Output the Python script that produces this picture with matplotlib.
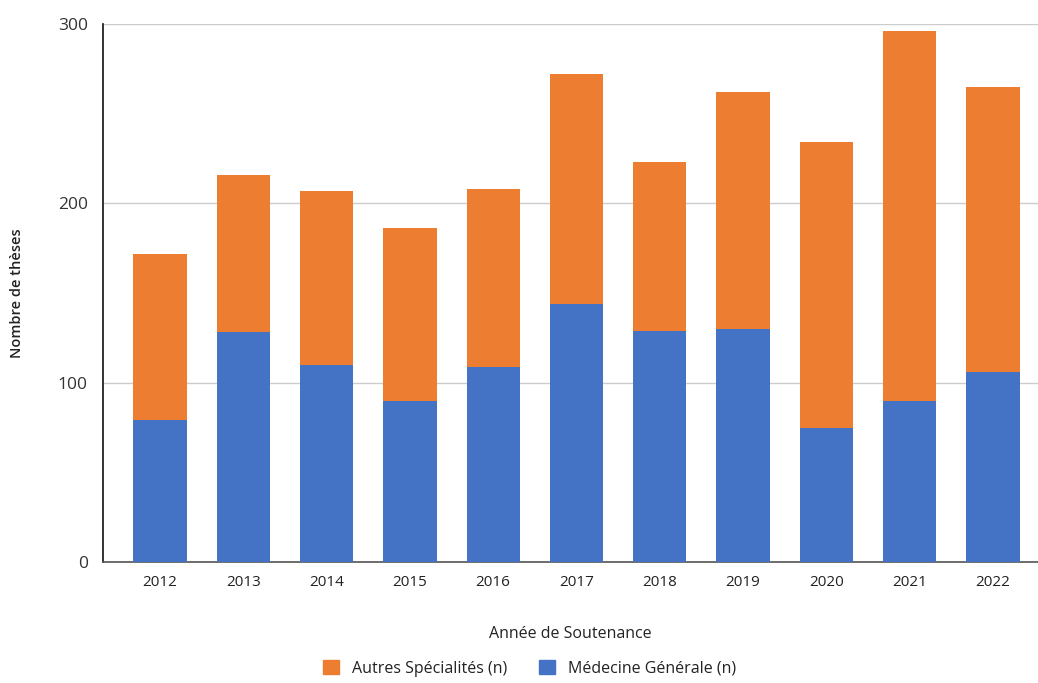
import matplotlib.pyplot as plt
from matplotlib.patches import Patch

plt.rcParams['font.family'] = ['Open Sans', 'DejaVu Sans']

# years and counts
years = ['2012', '2013', '2014', '2015', '2016', '2017', '2018', '2019', '2020', '2021', '2022']
medecine_generale = [79, 128, 110, 90, 109, 144, 129, 130, 75, 90, 106]
autres_specialites = [93, 88, 97, 96, 99, 128, 94, 132, 159, 206, 159]

blue = '#4472c4'
orange = '#ed7d31'

fig = plt.figure(figsize=(10.38, 6.83), dpi=100)
ax = fig.add_axes([0.0992, 0.177, 0.9008, 0.788])

x = range(len(years))
ax.bar(x, medecine_generale, width=0.64, color=blue, zorder=3)
ax.bar(x, autres_specialites, width=0.64, bottom=medecine_generale, color=orange, zorder=3)

ax.set_xlim(-0.684, 10.54)
ax.set_ylim(0, 300)
ax.set_yticks([0, 100, 200, 300])
ax.set_xticks(list(x))
ax.set_xticklabels(years, fontsize=11, color='#222222')
ax.tick_params(axis='y', labelsize=12.5, colors='#333333', length=0, pad=11)
ax.tick_params(axis='x', length=0, pad=9)
ax.yaxis.grid(True, color='#cccccc', linewidth=1, zorder=0)

for s in ['top', 'right']:
    ax.spines[s].set_visible(False)
ax.spines['left'].set_color('#111111')
ax.spines['left'].set_linewidth(1.2)
ax.spines['bottom'].set_color('#555555')
ax.spines['bottom'].set_linewidth(1.2)

ax.set_xlabel('Année de Soutenance', fontsize=11.5, color='#222222', labelpad=26)
ax.set_ylabel('Nombre de thèses', fontsize=10.5, fontweight='semibold', color='#222222', labelpad=24)

handles = [Patch(color=orange, label='Autres Spécialités (n)'),
           Patch(color=blue, label='Médecine Générale (n)')]
fig.legend(handles=handles, loc='lower center', bbox_to_anchor=(0.51, -0.012), ncol=2,
           frameon=False, fontsize=11.5, handlelength=1.0, handleheight=1.0,
           columnspacing=2.0, handletextpad=0.8, labelcolor='#222222')

fig.savefig('out.png', dpi=100)
